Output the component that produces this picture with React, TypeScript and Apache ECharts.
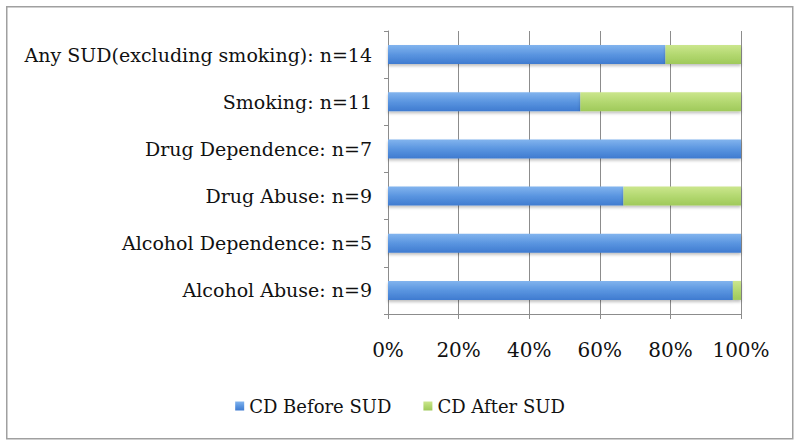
import React, { useEffect, useRef } from "react";
import * as echarts from "echarts";

const categories = [
  "Alcohol Abuse: n=9",
  "Alcohol Dependence: n=5",
  "Drug Abuse: n=9",
  "Drug Dependence: n=7",
  "Smoking: n=11",
  "Any SUD(excluding smoking): n=14",
];
const beforeSUD = [97.7, 100, 66.7, 100, 54.5, 78.6];
const afterSUD = [2.3, 0, 33.3, 0, 45.5, 21.4];
const seriesNames = ["CD Before SUD", "CD After SUD"];

const FONT = "DejaVu Serif";

export default function App() {
  const ref = useRef<HTMLDivElement>(null);
  useEffect(() => {
    if (!ref.current) return;
    const chart = echarts.init(ref.current, null, { renderer: "svg" });
    const blue = new echarts.graphic.LinearGradient(0, 0, 0, 1, [
      { offset: 0, color: "#82b4ee" },
      { offset: 0.5, color: "#5a95e0" },
      { offset: 1, color: "#3f7bd0" },
    ]);
    const green = new echarts.graphic.LinearGradient(0, 0, 0, 1, [
      { offset: 0, color: "#cbe68d" },
      { offset: 0.5, color: "#b3d870" },
      { offset: 1, color: "#9fc95a" },
    ]);
    chart.setOption({
      animation: false,
      backgroundColor: "#ffffff",
      textStyle: { fontFamily: FONT },
      graphic: [
        {
          type: "rect",
          left: 6,
          top: 6,
          shape: { x: 0, y: 0, width: 786, height: 432 },
          style: { fill: "rgba(0,0,0,0)", stroke: "#a0a0a0", lineWidth: 1.5 },
          silent: true,
          z: 0,
        },
      ],
      grid: { left: 388, right: 59, top: 31, bottom: 133, containLabel: false },
      xAxis: {
        type: "value",
        min: 0,
        max: 100,
        interval: 20,
        axisLine: { show: true, lineStyle: { color: "#8c8c8c" } },
        axisTick: { show: true, length: 5, lineStyle: { color: "#8c8c8c" } },
        splitLine: { show: true, lineStyle: { color: "#8c8c8c", width: 1 } },
        axisLabel: {
          formatter: "{value}%",
          fontFamily: FONT,
          fontSize: 20,
          color: "#111",
          margin: 26,
        },
      },
      yAxis: {
        type: "category",
        data: categories,
        axisLine: { show: true, lineStyle: { color: "#8c8c8c" } },
        axisTick: { show: true, length: 4, lineStyle: { color: "#8c8c8c" } },
        axisLabel: { fontFamily: FONT, fontSize: 19, color: "#111", margin: 16 },
      },
      legend: {
        bottom: 27,
        left: "center",
        itemWidth: 9,
        itemHeight: 9,
        itemGap: 32,
        icon: "rect",
        textStyle: { fontFamily: FONT, fontSize: 18, color: "#111" },
        data: seriesNames,
      },
      series: [
        {
          name: seriesNames[0],
          type: "bar",
          stack: "total",
          data: beforeSUD,
          barWidth: 19,
          itemStyle: {
            color: blue,
            shadowColor: "rgba(0,0,0,0.25)",
            shadowBlur: 3,
            shadowOffsetY: 2,
          },
        },
        {
          name: seriesNames[1],
          type: "bar",
          stack: "total",
          data: afterSUD,
          barWidth: 19,
          itemStyle: {
            color: green,
            shadowColor: "rgba(0,0,0,0.25)",
            shadowBlur: 3,
            shadowOffsetY: 2,
          },
        },
      ],
    });
    return () => chart.dispose();
  }, []);
  return (
    <div
      ref={ref}
      style={{ position: "absolute", left: 0, top: 0, width: 800, height: 447 }}
    />
  );
}
